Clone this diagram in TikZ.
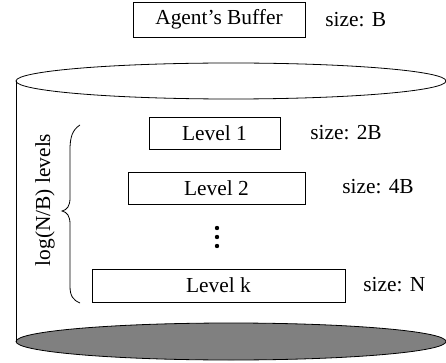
\documentclass[tikz,border=0pt]{standalone}
\usepackage{fontspec}
\setmainfont{Liberation Serif}
\begin{document}
\begin{tikzpicture}[x=1pt,y=-1pt,line width=0.8pt,
	lvl/.style={draw,minimum height=32pt,inner sep=0pt,font=\fontsize{21.4}{25}\selectfont},
	sz/.style={anchor=west,inner sep=0pt,font=\fontsize{21.4}{25}\selectfont}]
	\useasboundingbox (0,0) rectangle (446,363);
	\node[lvl,minimum width=172pt,minimum height=35pt] (buf) at (219,19.5) {Agent's Buffer};
	\node[sz] (bufsz) at (325,20) {size: B};
	\draw (231,81) ellipse [x radius=215, y radius=18];
	\draw[fill=gray] (16,341.5) coordinate (bl) arc[start angle=180,end angle=360,x radius=215,y radius=-18.5]
		arc[start angle=0,end angle=180,x radius=215,y radius=-18.5];
	\draw (16,81) coordinate (tl) -- (bl);
	\node[lvl,minimum width=131pt] (l1) at (214.5,133) {Level 1};
	\node[sz] (l1sz) at (310,133) {size: 2B};
	\node[lvl,minimum width=177pt] (l2) at (216.5,188) {Level 2};
	\node[sz] (l2sz) at (342,187) {size: 4B};
	\foreach \y in {228,237,246}
		\fill (217,\y) circle (2.2);
	\node[lvl,minimum width=253pt,minimum height=33pt] (lk) at (218.5,285.5) {Level k};
	\node[sz] (lksz) at (363,285) {size: N};
	\draw (80,125) .. controls (72,130) and (70,138) .. (70,150) -- (70,198)
		.. controls (70,206) and (67,210) .. (62,211)
		.. controls (67,212) and (70,216) .. (70,224) -- (70,286)
		.. controls (70,296) and (73,300) .. (80,303);
	\node[rotate=90,inner sep=0pt,font=\fontsize{21.4}{25}\selectfont] (nlev) at (45,200) {log(N/B) levels};
\end{tikzpicture}
\end{document}
